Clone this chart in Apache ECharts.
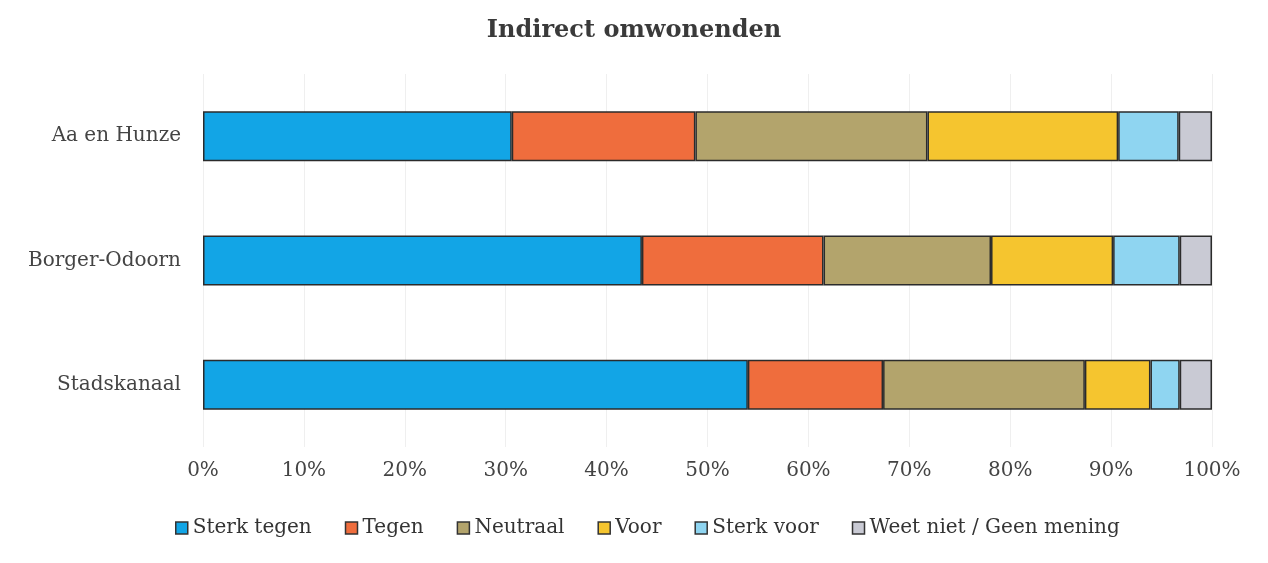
<!DOCTYPE html>
<html>
<head>
<meta charset="utf-8">
<script src="https://cdn.jsdelivr.net/npm/echarts@6/dist/echarts.min.js"></script>
<style>
  html, body { margin: 0; padding: 0; background: #fff; }
  #main { width: 1268px; height: 563px; }
</style>
</head>
<body>
<div id="main"></div>
<script>
var gemeenten = ['Aa en Hunze', 'Borger-Odoorn', 'Stadskanaal'];
var sterkTegen = [30.6, 43.5, 54.0];
var tegen = [18.2, 18.0, 13.4];
var neutraal = [23.0, 16.6, 20.0];
var voor = [18.9, 12.1, 6.5];
var sterkVoor = [6.0, 6.6, 2.9];
var weetNiet = [3.3, 3.2, 3.2];
var xTicks = [0, 10, 20, 30, 40, 50, 60, 70, 80, 90, 100];

var font = 'DejaVu Serif';
var kleuren = ['#12a5e6', '#ef6d3d', '#b3a46c', '#f5c52f', '#8fd5f1', '#c9cad4'];

function serie(naam, data) {
    return {
        name: naam,
        type: 'bar',
        stack: 'totaal',
        barWidth: 50,
        data: data,
        itemStyle: {
            borderColor: '#2b2b2b',
            borderWidth: 1.5
        }
    };
}

var myChart = echarts.init(document.getElementById('main'));
var option = {
    animation: false,
    color: kleuren,
    title: {
        text: 'Indirect omwonenden',
        left: 'center',
        top: 14,
        textStyle: {
            fontFamily: font,
            fontSize: 24,
            fontWeight: 'bold',
            color: '#3a3a3a'
        }
    },
    legend: {
        bottom: 20,
        left: 170,
        itemWidth: 12,
        itemHeight: 12,
        itemGap: 33,
        icon: 'rect',
        itemStyle: {
            borderColor: '#333',
            borderWidth: 1.5
        },
        textStyle: {
            fontFamily: font,
            fontSize: 20,
            color: '#333'
        },
        data: ['Sterk tegen', 'Tegen', 'Neutraal', 'Voor', 'Sterk voor', 'Weet niet / Geen mening']
    },
    grid: {
        left: 203,
        right: 56,
        top: 74,
        bottom: 116
    },
    xAxis: {
        type: 'value',
        min: 0,
        max: 100,
        interval: 10,
        axisLine: { show: false },
        axisTick: { show: false },
        splitLine: { lineStyle: { color: '#efefef', width: 1 } },
        axisLabel: {
            fontFamily: font,
            fontSize: 20,
            color: '#444',
            margin: 14,
            formatter: function (v) { return xTicks.indexOf(v) >= 0 ? v + '%' : ''; }
        }
    },
    yAxis: {
        type: 'category',
        inverse: true,
        data: gemeenten,
        axisLine: { show: false },
        axisTick: { show: false },
        axisLabel: {
            fontFamily: font,
            fontSize: 20,
            color: '#444',
            margin: 22
        }
    },
    series: [
        serie('Sterk tegen', sterkTegen),
        serie('Tegen', tegen),
        serie('Neutraal', neutraal),
        serie('Voor', voor),
        serie('Sterk voor', sterkVoor),
        serie('Weet niet / Geen mening', weetNiet)
    ]
};
myChart.setOption(option);
</script>
</body>
</html>
